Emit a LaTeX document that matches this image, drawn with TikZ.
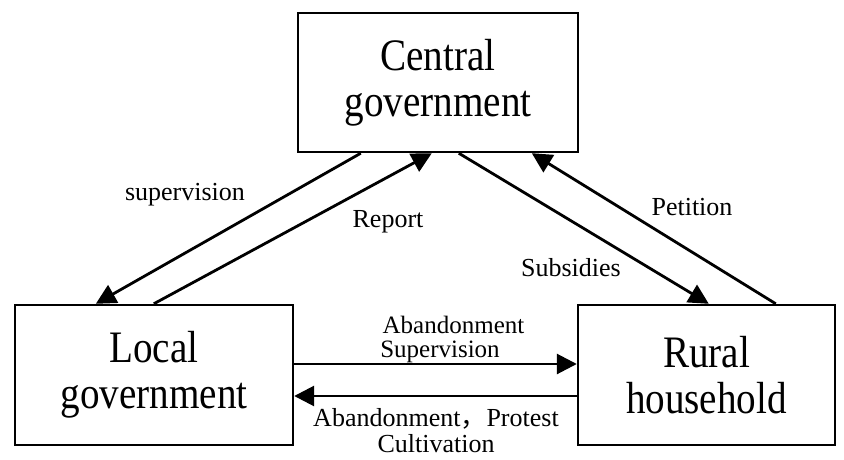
\documentclass[tikz,border=0pt]{standalone}
\usepackage{fontspec}
\setmainfont{Liberation Serif}
\newfontfamily\cjk{Noto Sans CJK SC}
\usetikzlibrary{arrows.meta,calc}
\newcommand\narrowtxt[1]{\scalebox{0.87}[1]{#1}}
\begin{document}
\begin{tikzpicture}[x=1pt,y=1pt,
  box/.style={draw,line width=2.4pt,inner sep=0pt,align=center,font=\fontsize{45}{46}\selectfont},
  flow/.style={line width=2.8pt,-{Triangle[length=20pt,width=20pt]}},
  lbl/.style={inner sep=0pt,align=center,font=\fontsize{26}{26}\selectfont}]
\useasboundingbox (0,0) rectangle (844,459);
\node[box,minimum width=280pt,minimum height=139pt] (central) at (438,376.5) {\narrowtxt{Central}\\\narrowtxt{government}};
\node[box,minimum width=278pt,minimum height=140pt] (local) at (154,84) {\narrowtxt{Local}\\\narrowtxt{government}};
\node[box,minimum width=257pt,minimum height=140pt] (rural) at (706.5,84) {\narrowtxt{Rural}\\\narrowtxt{household}};
\draw[flow] ($(central.south west)+(64,0)$) -- ($(local.north west)+(82,0)$);
\draw[flow] ($(local.north west)+(140,0)$) -- ($(central.south west)+(135,0)$);
\draw[flow] ($(central.south west)+(162,0)$) -- ($(rural.north west)+(132,0)$);
\draw[flow] ($(rural.north west)+(199,0)$) -- ($(central.south west)+(235,0)$);
\draw[flow] ($(local.east)+(0,11)$) -- ($(rural.west)+(0,11)$);
\draw[flow] ($(rural.west)+(0,-21)$) -- ($(local.east)+(0,-21)$);
\node[lbl] (lsup) at (185,264) {supervision};
\node[lbl] (lrep) at (388,237) {Report};
\node[lbl] (lsub) at (571,191) {Subsidies};
\node[lbl] (lpet) at (692,252) {Petition};
\node[lbl,font=\fontsize{25}{24}\selectfont] (labs) at (440,120) {\hspace*{27pt}Abandonment\\Supervision};
\node[lbl,font=\fontsize{26}{26}\selectfont] (lpro) at (436,28) {Abandonment{\cjk ，}Protest\\Cultivation};
\end{tikzpicture}
\end{document}
